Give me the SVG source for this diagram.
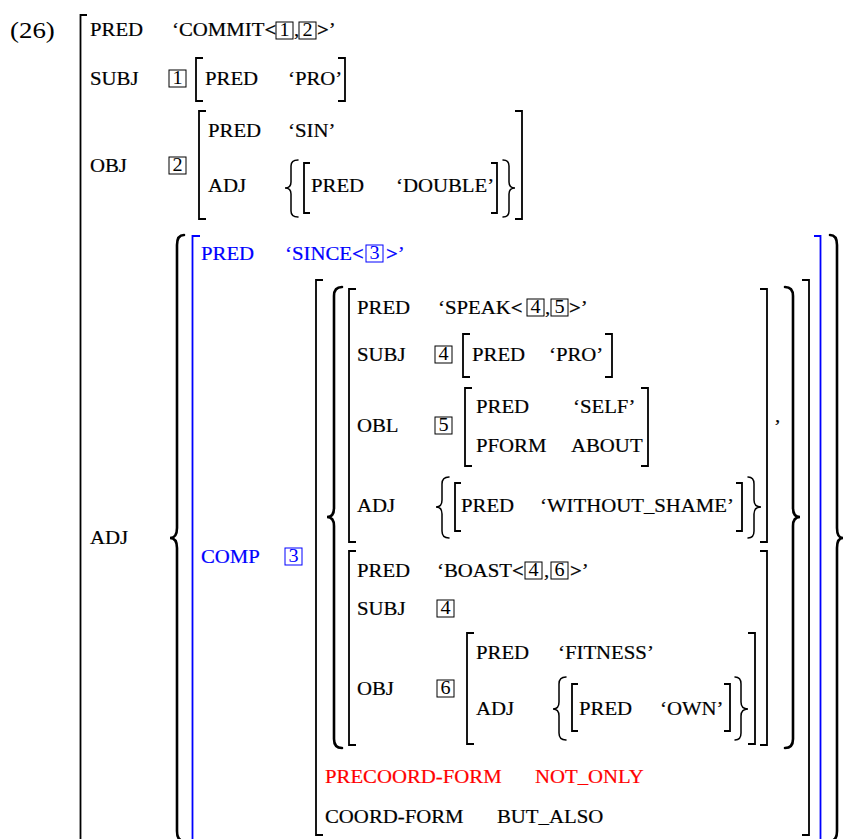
<svg xmlns="http://www.w3.org/2000/svg" width="843" height="839" viewBox="0 0 843 839">
<style>
text { font-family: "Liberation Serif", "Times New Roman", serif; font-size: 18.5px; fill: #000; stroke: #000; stroke-width: 0.2; transform: scaleX(1.124); transform-box: fill-box; transform-origin: 0 0; }
text.n { font-size: 18px; stroke-width: 0; }
text.lbl { font-size: 23px; stroke-width: 0; transform: scaleX(1.17); }
text.blue { fill: #0000ff; stroke: #0000ff; }
text.red { fill: #ff0000; stroke: #ff0000; }
tspan.b { font-weight: bold; }
.br { fill: none; stroke: #000; stroke-width: 1.8; }
.brb { fill: none; stroke: #0000ff; stroke-width: 1.8; }
.bc { fill: none; stroke: #000; stroke-width: 1.5; stroke-linecap: round; }
.bcb { fill: none; stroke: #000; stroke-width: 2.6; stroke-linecap: round; }
.box { fill: none; stroke: #000; stroke-width: 1; }
.boxb { fill: none; stroke: #0000ff; stroke-width: 1; }
</style>
<rect width="843" height="839" fill="#fff"/>

<g id="example-label">
<text class="lbl" x="10" y="38">(26)</text>
</g>

<g id="f-main">
<path class="br" d="M87 15 H80.5 V845"/>
<text x="90" y="36">PRED</text>
<text x="172" y="36">‘COMMIT<tspan class="b">&lt;</tspan></text>
<rect class="box" x="276" y="22" width="17" height="17"/><text class="n" x="279.4" y="36.5">1</text>
<text x="294" y="36">,</text>
<rect class="box" x="299" y="22" width="17" height="17"/><text class="n" x="302.4" y="36.5">2</text>
<text x="317" y="36"><tspan class="b">&gt;</tspan>’</text>
<text x="90" y="85">SUBJ</text>
<text x="90" y="172">OBJ</text>
<text x="90" y="544">ADJ</text>
</g>

<g id="f-subj">
<rect class="box" x="169" y="70" width="17" height="17"/><text class="n" x="172.4" y="84.5">1</text>
<path class="br" d="M203 58 H196 V101 H203"/>
<text x="205" y="85">PRED</text>
<text x="288" y="85">‘PRO’</text>
<path class="br" d="M338 58 H345 V101 H338"/>
</g>

<g id="f-obj">
<rect class="box" x="169" y="157" width="17" height="17"/><text class="n" x="172.4" y="171.5">2</text>
<path class="br" d="M206 111 H199 V219 H206"/>
<text x="208" y="137">PRED</text>
<text x="288" y="137">‘SIN’</text>
<text x="208" y="192">ADJ</text>
<path class="bc" d="M298 160 Q291 160 291 166 L291 182 Q291 188 285 188 Q291 188 291 194 L291 211 Q291 217 298 217"/>
<path class="br" d="M310 163 H304 V213 H310"/>
<text x="311" y="192">PRED</text>
<text x="396" y="192">‘DOUBLE’</text>
<path class="br" d="M491 163 H497 V213 H491"/>
<path class="bc" d="M503 160 Q509 160 509 166 L509 182 Q509 188 515 188 Q509 188 509 194 L509 211 Q509 217 503 217"/>
<path class="br" d="M515 111 H522 V219 H515"/>
</g>

<g id="adj-set">
<path class="bcb" d="M184 235 Q177 235 177 245 L177 528 Q177 538 170 538 Q177 538 177 548 L177 831 Q177 841 184 841"/>
<path class="bcb" d="M830 235 Q837 235 837 245 L837 528 Q837 538 843 538 Q837 538 837 548 L837 831 Q837 841 830 841"/>
</g>

<g id="f-since">
<path class="brb" d="M200 236 H192.5 V845"/>
<path class="brb" d="M814 236 H820.5 V845"/>
<text class="blue" x="201" y="260">PRED</text>
<text class="blue" x="285" y="260">‘SINCE<tspan class="b">&lt;</tspan></text>
<rect class="boxb" x="366" y="245" width="17" height="17"/><text class="n blue" x="369.4" y="259.5">3</text>
<text class="blue" x="386" y="260"><tspan class="b">&gt;</tspan>’</text>
<text class="blue" x="201" y="563">COMP</text>
<rect class="boxb" x="285" y="548" width="17" height="17"/><text class="n blue" x="288.4" y="562.5">3</text>
</g>

<g id="f-comp">
<path class="br" d="M323 280 H316 V835 H323"/>
<path class="br" d="M802 280 H809 V835 H802"/>
<path class="bcb" d="M342 287 Q334 287 334 296 L334 508 Q334 517 327 517 Q334 517 334 526 L334 739 Q334 748 342 748"/>
<path class="bcb" d="M785 287 Q793 287 793 296 L793 508 Q793 517 800 517 Q793 517 793 526 L793 739 Q793 748 785 748"/>
<text x="775" y="422">,</text>
<text class="red" x="325" y="783">PRECOORD-FORM</text>
<text class="red" x="535" y="783">NOT_ONLY</text>
<text x="325" y="823">COORD-FORM</text>
<text x="497" y="823">BUT_ALSO</text>
</g>

<g id="f-speak">
<path class="br" d="M356 289 H349 V542 H356"/>
<path class="br" d="M760 289 H767 V542 H760"/>
<text x="357" y="314">PRED</text>
<text x="438" y="314">‘SPEAK<tspan class="b">&lt;</tspan></text>
<rect class="box" x="527" y="299" width="17" height="17"/><text class="n" x="530.4" y="313.5">4</text>
<text x="545" y="314">,</text>
<rect class="box" x="551" y="299" width="17" height="17"/><text class="n" x="554.4" y="313.5">5</text>
<text x="569" y="314"><tspan class="b">&gt;</tspan>’</text>
<text x="357" y="361">SUBJ</text>
<rect class="box" x="435" y="346" width="17" height="17"/><text class="n" x="438.4" y="360.5">4</text>
<path class="br" d="M470 334 H463 V377 H470"/>
<text x="472" y="361">PRED</text>
<text x="549" y="361">‘PRO’</text>
<path class="br" d="M605 334 H612 V377 H605"/>
<text x="357" y="432">OBL</text>
<rect class="box" x="435" y="417" width="17" height="17"/><text class="n" x="438.4" y="431.5">5</text>
<path class="br" d="M472 388 H465 V466 H472"/>
<text x="476" y="413">PRED</text>
<text x="573" y="413">‘SELF’</text>
<text x="476" y="452">PFORM</text>
<text x="571" y="452">ABOUT</text>
<path class="br" d="M641 388 H648 V466 H641"/>
<text x="357" y="512">ADJ</text>
<path class="bc" d="M449 477 Q442 477 442 484 L442 500 Q442 507 436 507 Q442 507 442 514 L442 531 Q442 538 449 538"/>
<path class="br" d="M461 483 H455 V531 H461"/>
<text x="461" y="512">PRED</text>
<text x="540" y="512">‘WITHOUT_SHAME’</text>
<path class="br" d="M736 483 H742 V531 H736"/>
<path class="bc" d="M748 477 Q754 477 754 484 L754 500 Q754 507 761 507 Q754 507 754 514 L754 531 Q754 538 748 538"/>
</g>

<g id="f-boast">
<path class="br" d="M356 551 H349 V745 H356"/>
<path class="br" d="M760 551 H767 V745 H760"/>
<text x="357" y="577">PRED</text>
<text x="437" y="577">‘BOAST<tspan class="b">&lt;</tspan></text>
<rect class="box" x="525" y="562" width="17" height="17"/><text class="n" x="528.4" y="576.5">4</text>
<text x="544" y="577">,</text>
<rect class="box" x="551" y="562" width="17" height="17"/><text class="n" x="554.4" y="576.5">6</text>
<text x="570" y="577"><tspan class="b">&gt;</tspan>’</text>
<text x="357" y="615">SUBJ</text>
<rect class="box" x="437" y="600" width="17" height="17"/><text class="n" x="440.4" y="614.5">4</text>
<text x="357" y="695">OBJ</text>
<rect class="box" x="437" y="680" width="17" height="17"/><text class="n" x="440.4" y="694.5">6</text>
<path class="br" d="M474 633 H467 V744 H474"/>
<text x="476" y="659">PRED</text>
<text x="558" y="659">‘FITNESS’</text>
<text x="476" y="715">ADJ</text>
<path class="bc" d="M566 677 Q559 677 559 684 L559 702 Q559 709 553 709 Q559 709 559 716 L559 733 Q559 740 566 740"/>
<path class="br" d="M578 684 H572 V731 H578"/>
<text x="579" y="715">PRED</text>
<text x="660" y="715">‘OWN’</text>
<path class="br" d="M724 684 H730 V731 H724"/>
<path class="bc" d="M735 677 Q741 677 741 684 L741 702 Q741 709 748 709 Q741 709 741 716 L741 733 Q741 740 735 740"/>
<path class="br" d="M748 633 H755 V744 H748"/>
</g>
</svg>
